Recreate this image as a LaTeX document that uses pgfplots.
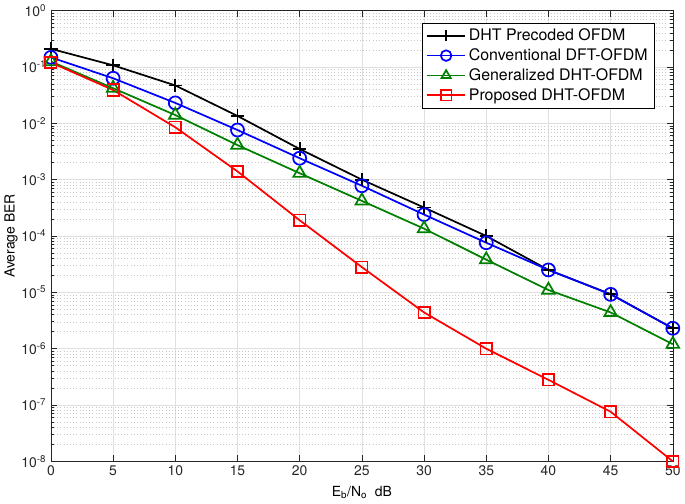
\documentclass[border=0pt]{standalone}
\usepackage{pgfplots}
\pgfplotsset{compat=1.18}
\usepackage{fontspec}
\setmainfont{TeX Gyre Heros}
\definecolor{mgreen}{rgb}{0,0.5,0}
\definecolor{axgray}{gray}{0.15}
\begin{document}
\begin{tikzpicture}
\begin{axis}[
  scale only axis,
  width=468.75pt, height=339.75pt,
  xmin=0, xmax=50, ymin=1e-8, ymax=1,
  ymode=log, log basis y=10,
  xtick={0,5,...,50},
  ytick={1e-8,1e-7,1e-6,1e-5,1e-4,1e-3,1e-2,1e-1,1},
  yticklabels={10\textsuperscript{-8},10\textsuperscript{-7},10\textsuperscript{-6},10\textsuperscript{-5},10\textsuperscript{-4},10\textsuperscript{-3},10\textsuperscript{-2},10\textsuperscript{-1},10\textsuperscript{0}},
  minor ytick={2e-8,3e-8,4e-8,5e-8,6e-8,7e-8,8e-8,9e-8,
               2e-7,3e-7,4e-7,5e-7,6e-7,7e-7,8e-7,9e-7,
               2e-6,3e-6,4e-6,5e-6,6e-6,7e-6,8e-6,9e-6,
               2e-5,3e-5,4e-5,5e-5,6e-5,7e-5,8e-5,9e-5,
               2e-4,3e-4,4e-4,5e-4,6e-4,7e-4,8e-4,9e-4,
               2e-3,3e-3,4e-3,5e-3,6e-3,7e-3,8e-3,9e-3,
               2e-2,3e-2,4e-2,5e-2,6e-2,7e-2,8e-2,9e-2,
               2e-1,3e-1,4e-1,5e-1,6e-1,7e-1,8e-1,9e-1},
  /pgf/number format/assume math mode=true,
  tick label style={font=\fontsize{10.5}{12}\selectfont, color=axgray},
  label style={font=\fontsize{10.5}{12}\selectfont},
  xlabel={E\textsubscript{b}/N\textsubscript{o}\ \ dB},
  ylabel={Average BER},
  xlabel style={yshift=-1pt},
  ylabel style={yshift=-4pt},
  grid=both,
  major grid style={color=black!12, line width=0.5pt},
  minor grid style={color=black!22, dotted, line width=0.4pt},
  axis line style={color=axgray, line width=0.5pt},
  tick style={color=axgray, line width=0.5pt},
  major tick length=4.5pt,
  minor tick length=2.5pt,
  tick align=inside,
  xtick pos=both, ytick pos=both,
  legend cell align=left,
  legend style={at={(rel axis cs:0.9705,0.9735)}, anchor=north east,
    font=\fontsize{12}{14}\selectfont, draw=black,
    row sep=0.5pt, inner xsep=3pt, inner ysep=2.5pt},
  legend image code/.code={\draw[#1, line width=1.3pt, mark size=4pt, mark options={line width=1.3pt}, mark repeat=2, mark phase=2] plot coordinates {(0pt,0pt)(14.5pt,0pt)(29pt,0pt)};},
]
\addplot[black, line width=1.3pt, mark=+, mark size=5pt, mark options={line width=1.3pt}] coordinates {
(0,0.21)(5,0.107)(10,0.047)(15,0.0135)(20,0.0035)(25,0.001)(30,3.2e-4)(35,1.0e-4)(40,2.5e-5)(45,9.3e-6)(50,2.3e-6)};
\addlegendentry{DHT Precoded OFDM}
\addplot[blue, line width=1.3pt, mark=o, mark size=4.9pt, mark options={line width=1.3pt}] coordinates {
(0,0.148)(5,0.063)(10,0.023)(15,0.0076)(20,0.0024)(25,7.8e-4)(30,2.4e-4)(35,7.6e-5)(40,2.5e-5)(45,9.2e-6)(50,2.3e-6)};
\addlegendentry{Conventional DFT-OFDM}
\addplot[mgreen, line width=1.3pt, mark=triangle, mark size=5.5pt, mark options={line width=1.3pt}] coordinates {
(0,0.125)(5,0.042)(10,0.014)(15,0.0041)(20,0.0013)(25,4.2e-4)(30,1.35e-4)(35,3.8e-5)(40,1.1e-5)(45,4.4e-6)(50,1.2e-6)};
\addlegendentry{Generalized DHT-OFDM}
\addplot[red, line width=1.3pt, mark=square, mark size=4.3pt, mark options={line width=1.3pt}] coordinates {
(0,0.12)(5,0.039)(10,0.0085)(15,0.0014)(20,1.9e-4)(25,2.8e-5)(30,4.4e-6)(35,1.0e-6)(40,2.8e-7)(45,7.6e-8)(50,1.0e-8)};
\addlegendentry{Proposed DHT-OFDM}
\end{axis}
\end{tikzpicture}
\end{document}
